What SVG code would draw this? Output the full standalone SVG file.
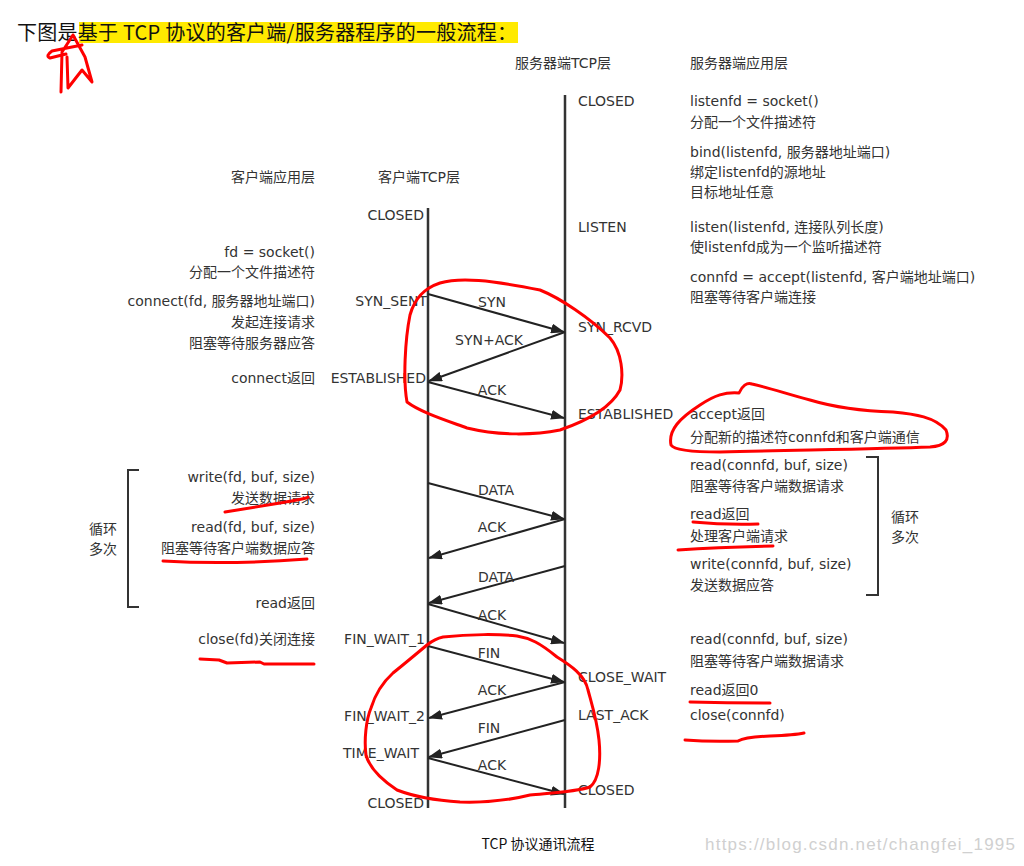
<svg xmlns="http://www.w3.org/2000/svg" width="1024" height="866" viewBox="0 0 1024 866">
<defs>
<marker id="ah" markerUnits="userSpaceOnUse" markerWidth="14" markerHeight="10" refX="13" refY="5" orient="auto">
<path d="M0,0 L14,5 L0,10 Z" fill="#222"/>
</marker>
<style>
.t{font-family:"DejaVu Sans","Noto Sans CJK SC",sans-serif;font-size:14px;fill:#333}
.e{text-anchor:end}
.m{text-anchor:middle}
.ln{stroke:#333;stroke-width:2.5;fill:none}
.ar{stroke:#222;stroke-width:2;fill:none;marker-end:url(#ah)}
.br{stroke:#333;stroke-width:2;fill:none}
.red{stroke:#f00;stroke-width:3;fill:none;stroke-linecap:round;stroke-linejoin:round}
</style>
</defs>
<rect width="1024" height="866" fill="#fff"/>
<g id="title">
<rect x="79" y="22" width="439" height="21" fill="#ffea00"/>
<text x="17" y="40" font-family="Noto Sans CJK SC,sans-serif" font-size="20" fill="#111" textLength="500" lengthAdjust="spacing">下图是基于 TCP 协议的客户端/服务器程序的一般流程：</text>
</g>
<g id="headers">
<text class="t" x="515" y="68">服务器端TCP层</text>
<text class="t" x="690" y="68">服务器端应用层</text>
<text class="t e" x="315" y="182">客户端应用层</text>
<text class="t" x="378" y="182">客户端TCP层</text>
</g>
<g id="client-line"><line class="ln" x1="428" y1="208" x2="428" y2="808"/></g>
<g id="server-line"><line class="ln" x1="565" y1="95" x2="565" y2="808"/></g>
<g id="client-states">
<text class="t e" x="424" y="220">CLOSED</text>
<text class="t e" x="427" y="306">SYN_SENT</text>
<text class="t e" x="426" y="383">ESTABLISHED</text>
<text class="t e" x="425" y="644">FIN_WAIT_1</text>
<text class="t e" x="425" y="721">FIN_WAIT_2</text>
<text class="t e" x="419" y="758">TIME_WAIT</text>
<text class="t e" x="424" y="808">CLOSED</text>
</g>
<g id="server-states">
<text class="t" x="578" y="106">CLOSED</text>
<text class="t" x="578" y="232">LISTEN</text>
<text class="t" x="578" y="332">SYN_RCVD</text>
<text class="t" x="578" y="419">ESTABLISHED</text>
<text class="t" x="578" y="682">CLOSE_WAIT</text>
<text class="t" x="578" y="720">LAST_ACK</text>
<text class="t" x="578" y="795">CLOSED</text>
</g>
<g id="client-app">
<text class="t e" x="315" y="257">fd = socket()</text>
<text class="t e" x="315" y="277">分配一个文件描述符</text>
<text class="t e" x="315" y="306">connect(fd, 服务器地址端口)</text>
<text class="t e" x="315" y="327">发起连接请求</text>
<text class="t e" x="315" y="348">阻塞等待服务器应答</text>
<text class="t e" x="315" y="383">connect返回</text>
<text class="t e" x="315" y="482">write(fd, buf, size)</text>
<text class="t e" x="315" y="503">发送数据请求</text>
<text class="t e" x="315" y="532">read(fd, buf, size)</text>
<text class="t e" x="315" y="553">阻塞等待客户端数据应答</text>
<text class="t e" x="315" y="608">read返回</text>
<text class="t e" x="315" y="644">close(fd)关闭连接</text>
</g>
<g id="client-loop">
<path class="br" d="M139,470 H128 V607 H139"/>
<text class="t m" x="103" y="534">循环</text>
<text class="t m" x="103" y="554">多次</text>
</g>
<g id="server-app">
<text class="t" x="690" y="106">listenfd = socket()</text>
<text class="t" x="690" y="127">分配一个文件描述符</text>
<text class="t" x="690" y="157">bind(listenfd, 服务器地址端口)</text>
<text class="t" x="690" y="177">绑定listenfd的源地址</text>
<text class="t" x="690" y="197">目标地址任意</text>
<text class="t" x="690" y="232">listen(listenfd, 连接队列长度)</text>
<text class="t" x="690" y="252">使listenfd成为一个监听描述符</text>
<text class="t" x="690" y="282">connfd = accept(listenfd, 客户端地址端口)</text>
<text class="t" x="690" y="302">阻塞等待客户端连接</text>
<text class="t" x="690" y="419">accept返回</text>
<text class="t" x="690" y="442">分配新的描述符connfd和客户端通信</text>
<text class="t" x="690" y="470">read(connfd, buf, size)</text>
<text class="t" x="690" y="491">阻塞等待客户端数据请求</text>
<text class="t" x="690" y="519">read返回</text>
<text class="t" x="690" y="541">处理客户端请求</text>
<text class="t" x="690" y="569">write(connfd, buf, size)</text>
<text class="t" x="690" y="590">发送数据应答</text>
<text class="t" x="690" y="644">read(connfd, buf, size)</text>
<text class="t" x="690" y="666">阻塞等待客户端数据请求</text>
<text class="t" x="690" y="695">read返回0</text>
<text class="t" x="690" y="720">close(connfd)</text>
</g>
<g id="server-loop">
<path class="br" d="M866,457 H878 V595 H866"/>
<text class="t m" x="905" y="522">循环</text>
<text class="t m" x="905" y="542">多次</text>
</g>
<g id="connectors">
<line class="ar" x1="428" y1="294" x2="564" y2="332"/>
<line class="ar" x1="565" y1="332" x2="429" y2="381"/>
<line class="ar" x1="428" y1="382" x2="564" y2="418"/>
<line class="ar" x1="428" y1="483" x2="564" y2="519"/>
<line class="ar" x1="565" y1="519" x2="429" y2="558"/>
<line class="ar" x1="565" y1="566" x2="429" y2="603"/>
<line class="ar" x1="428" y1="604" x2="564" y2="643"/>
<line class="ar" x1="428" y1="646" x2="564" y2="682"/>
<line class="ar" x1="565" y1="682" x2="429" y2="718"/>
<line class="ar" x1="565" y1="720" x2="429" y2="757"/>
<line class="ar" x1="428" y1="758" x2="564" y2="794"/>
<text class="t m" x="492" y="307">SYN</text>
<text class="t m" x="489" y="345">SYN+ACK</text>
<text class="t m" x="492" y="395">ACK</text>
<text class="t m" x="496" y="495">DATA</text>
<text class="t m" x="492" y="532">ACK</text>
<text class="t m" x="496" y="582">DATA</text>
<text class="t m" x="492" y="620">ACK</text>
<text class="t m" x="489" y="658">FIN</text>
<text class="t m" x="492" y="695">ACK</text>
<text class="t m" x="489" y="733">FIN</text>
<text class="t m" x="492" y="770">ACK</text>
</g>
<g id="caption">
<text x="538" y="849" font-family="Noto Sans CJK SC,sans-serif" font-size="14" fill="#111" text-anchor="middle">TCP 协议通讯流程</text>
<text x="705" y="850" font-family="Liberation Sans,sans-serif" font-size="17" fill="#d0d0d0" textLength="310">https://blog.csdn.net/changfei_1995</text>
</g>
<g id="annotations">
<path class="red" stroke-width="4" d="M73,35 L62,52 L61,92 M67,57 L68,88 L82,70 L92,82 L85,57 L73,35 M82,45 L52,51 Q45,56 50,58 L66,54"/>
<path class="red" d="M440,283 C460,277 490,280 540,290 C560,298 590,318 610,338 C622,352 624,375 620,390 C612,405 595,418 560,430 C535,435 500,436 467,428 C445,420 420,412 407,402 C403,380 405,340 410,315 C415,297 425,288 440,283"/>
<path class="red" d="M739,393 C742,386 747,382 752,384 C770,388 790,395 810,400 C830,406 860,411 893,412 C915,414 935,417 946,430 C950,440 945,446 930,447 C880,449 800,450 720,452 C690,452 674,450 671,445 C668,430 680,418 700,405 C715,395 725,392 739,393"/>
<path class="red" d="M443,637 C470,634 500,634 517,636 C530,638 540,643 557,657 C570,665 585,675 588,690 C592,705 597,720 599,740 C601,760 599,780 590,787 C575,792 550,793 530,795 C510,800 490,803 460,802 C430,800 410,795 397,790 C385,782 370,770 366,755 C364,740 366,720 371,708 C375,695 382,683 393,673 C403,665 415,655 427,645 C432,641 438,638 443,637"/>
<path class="red" d="M225,512 Q250,508 280,503 T308,497"/>
<path class="red" d="M163,561 Q230,565 307,559"/>
<path class="red" d="M693,522 Q725,525 758,524"/>
<path class="red" d="M678,550 Q720,547 773,546"/>
<path class="red" d="M200,659 L219,660 L227,663 L260,662 L264,664 L314,664"/>
<path class="red" d="M690,702 Q730,703 770,703"/>
<path class="red" d="M685,740 Q710,742 738,741 Q745,737 770,736 T804,733"/>
</g>
</svg>
